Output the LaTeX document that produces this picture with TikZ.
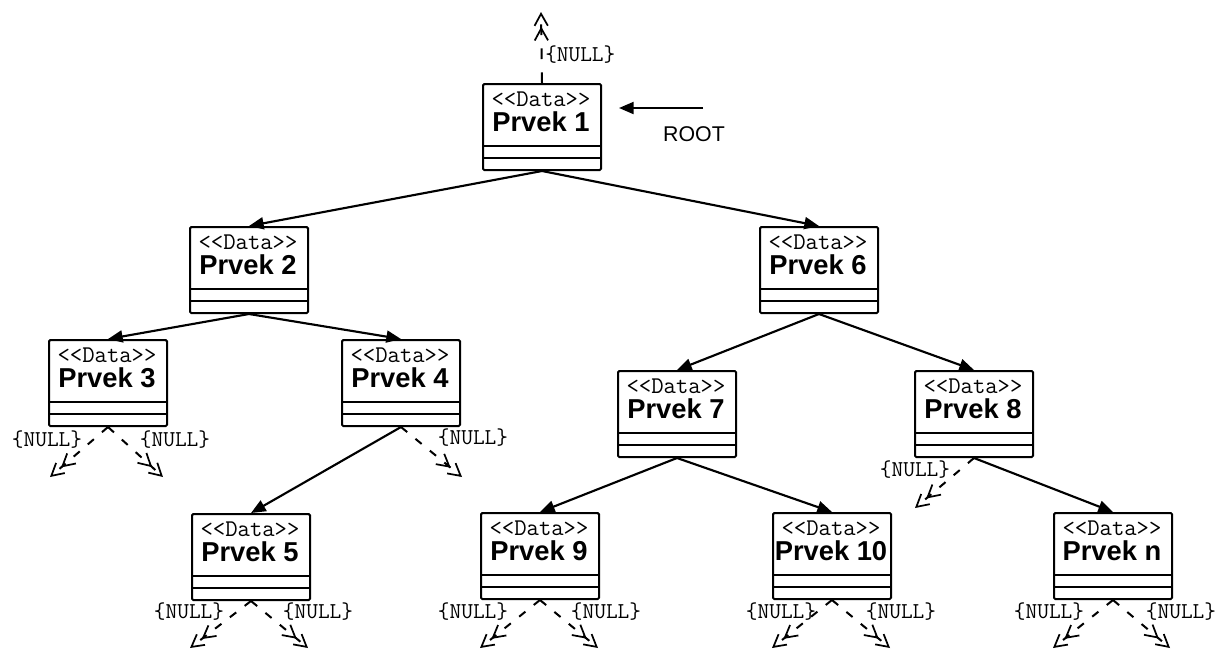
\documentclass[tikz,border=0pt]{standalone}
\usepackage{fontspec}
\setmainfont{Liberation Sans}
\usetikzlibrary{arrows.meta}
\newcommand\umlbox[4]{%
  \node[boxst] (#1) at (#2,#3) {};
  \node[ster] (#1s) at (#2+59,#3+16) {<{}<Data>{}>};
  \node[ttl] (#1t) at (#2+59,#3+39) {Prvek #4};
  \draw[line width=1.5pt] (#2,#3+63) -- (#2+118,#3+63) (#2,#3+75) -- (#2+118,#3+75);
}
\begin{document}
\begin{tikzpicture}[x=0.75pt,y=-0.75pt,
  boxst/.style={draw,line width=1.5pt,minimum width=88.5pt,minimum height=64.5pt,inner sep=0pt,anchor=north west,rounded corners=1pt},
  ster/.style={font=\ttfamily\fontsize{18}{18}\selectfont,inner sep=0pt},
  ttl/.style={font=\bfseries\fontsize{20.5}{20.5}\selectfont,inner sep=0pt},
  nl/.style={font=\ttfamily\fontsize{17}{17}\selectfont,inner sep=0pt},
  link/.style={line width=1.6pt,-{Triangle[length=11pt,width=9pt]}},
  nulla/.style={line width=1.5pt,dash pattern=on 6pt off 8pt,
    -{Straight Barb[length=9pt,width=10pt,line width=1.3pt]Straight Barb[length=9pt,width=10pt,line width=1.3pt]}}]
\useasboundingbox (0,0) rectangle (1218,651);
\umlbox{p1}{482}{83}{1}
\umlbox{p2}{189}{226}{2}
\umlbox{p3}{48}{339}{3}
\umlbox{p4}{341}{339}{4}
\umlbox{p5}{191}{513}{5}
\umlbox{p6}{759}{226}{6}
\umlbox{p7}{617}{370}{7}
\umlbox{p8}{914}{370}{8}
\umlbox{p9}{480}{512}{9}
\umlbox{p10}{772}{512}{10}
\umlbox{pn}{1053}{512}{n}
% solid links
\draw[link] (p1.south) -- (p2.north);
\draw[link] (p1.south) -- (p6.north);
\draw[link] (p2.south) -- (p3.north);
\draw[link] (p2.south) -- (p4.north);
\draw[link] (p4.south) -- (p5.north);
\draw[link] (p6.south) -- (p7.north);
\draw[link] (p6.south) -- (p8.north);
\draw[link] (p7.south) -- (p9.north);
\draw[link] (p7.south) -- (p10.north);
\draw[link] (p8.south) -- (pn.north);
% root
\coordinate (rootS) at (703,108);
\coordinate (rootT) at (619,108);
\draw[link] (rootS) -- (rootT);
\node[font=\fontsize{16}{16}\selectfont,inner sep=0pt] (root) at (694,134) {ROOT};
% null up
\coordinate (nTop) at (541,12);
\draw[nulla,dash pattern=on 8pt off 10pt] (p1.north) -- (nTop);
\node[nl,anchor=west] (l0) at (545,55) {\{NULL\}};
% null ends
\coordinate (e3l) at (50,477);
\coordinate (e3r) at (163,477);
\coordinate (e4r) at (462,477);
\coordinate (e8l) at (915,508);
\coordinate (e5l) at (190,648);
\coordinate (e5r) at (308,648);
\coordinate (e9l) at (480,648);
\coordinate (e9r) at (598,648);
\coordinate (e10l) at (772,648);
\coordinate (e10r) at (890,648);
\coordinate (enl) at (1053,648);
\coordinate (enr) at (1170,648);
\foreach \s/\e in {p3/e3l,p3/e3r,p4/e4r,p8/e8l,p5/e5l,p5/e5r,p9/e9l,p9/e9r,p10/e10l,p10/e10r,pn/enl,pn/enr}
  \draw[nulla] (\s.south) -- (\e);
% null labels
\node[nl] (l3l) at (47,440) {\{NULL\}};
\node[nl] (l3r) at (175,440) {\{NULL\}};
\node[nl] (l4r) at (473,438) {\{NULL\}};
\node[nl] (l8l) at (915,470) {\{NULL\}};
\node[nl] (l5l) at (189,612) {\{NULL\}};
\node[nl] (l5r) at (318,612) {\{NULL\}};
\node[nl] (l9l) at (473,612) {\{NULL\}};
\node[nl] (l9r) at (606,612) {\{NULL\}};
\node[nl] (l10l) at (781,612) {\{NULL\}};
\node[nl] (l10r) at (901,612) {\{NULL\}};
\node[nl] (lnl) at (1049,612) {\{NULL\}};
\node[nl] (lnr) at (1181,612) {\{NULL\}};
\end{tikzpicture}
\end{document}
